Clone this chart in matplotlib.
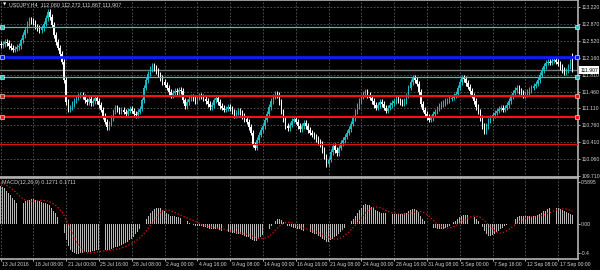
import numpy as np
import pandas as pd
import matplotlib
matplotlib.use("Agg")
import matplotlib.pyplot as plt
import matplotlib.transforms as mtrans

plt.rcParams['font.family'] = ['Liberation Sans', 'DejaVu Sans']

# USDJPY H4 closes, one per bar (left to right)
prev_close = 112.45
close = [
    112.43, 112.45, 112.49, 112.47, 112.41, 112.37, 112.33, 112.35, 112.39, 112.41,
    112.53, 112.64, 112.74, 112.87, 112.95, 112.93, 112.89, 112.82, 112.78, 112.74,
    112.78, 112.87, 112.99, 113.12, 113.01, 112.85, 112.64, 112.49, 112.37, 112.24,
    112.08, 111.70, 111.24, 111.08, 111.12, 111.20, 111.28, 111.33, 111.37, 111.39,
    111.35, 111.28, 111.24, 111.31, 111.22, 111.26, 111.33, 111.26, 111.18, 111.08,
    110.95, 110.83, 110.72, 110.79, 110.91, 111.04, 111.12, 111.08, 111.04, 111.08,
    111.04, 110.99, 111.06, 111.10, 111.06, 110.99, 110.97, 111.04, 111.10, 111.28,
    111.54, 111.70, 111.83, 111.93, 111.99, 111.95, 111.89, 111.81, 111.74, 111.66,
    111.60, 111.54, 111.45, 111.39, 111.43, 111.47, 111.45, 111.49, 111.47, 111.28,
    111.16, 111.24, 111.31, 111.35, 111.31, 111.26, 111.33, 111.37, 111.35, 111.31,
    111.26, 111.20, 111.14, 111.18, 111.28, 111.33, 111.24, 111.16, 111.12, 111.08,
    111.10, 111.14, 111.10, 111.04, 110.97, 111.02, 111.06, 111.02, 110.95, 110.89,
    110.83, 110.72, 110.60, 110.35, 110.29, 110.45, 110.56, 110.66, 110.74, 110.87,
    110.99, 111.14, 111.26, 111.35, 111.41, 111.39, 111.24, 111.04, 110.87, 110.74,
    110.70, 110.77, 110.85, 110.89, 110.83, 110.74, 110.68, 110.74, 110.81, 110.74,
    110.66, 110.60, 110.56, 110.52, 110.47, 110.41, 110.37, 110.24, 110.10, 109.95,
    110.04, 110.20, 110.33, 110.24, 110.18, 110.29, 110.39, 110.45, 110.52, 110.60,
    110.68, 110.79, 110.91, 111.04, 111.16, 111.26, 111.35, 111.41, 111.45, 111.39,
    111.33, 111.26, 111.18, 111.12, 111.18, 111.24, 111.20, 111.12, 111.06, 111.12,
    111.18, 111.22, 111.26, 111.31, 111.28, 111.24, 111.22, 111.26, 111.37, 111.54,
    111.66, 111.74, 111.70, 111.62, 111.45, 111.20, 111.08, 110.99, 110.93, 110.87,
    110.91, 110.99, 111.04, 111.10, 111.16, 111.20, 111.22, 111.26, 111.28, 111.31,
    111.33, 111.37, 111.41, 111.54, 111.66, 111.74, 111.72, 111.64, 111.56, 111.47,
    111.37, 111.26, 111.14, 111.04, 110.91, 110.74, 110.64, 110.74, 110.85, 110.91,
    110.97, 111.02, 111.06, 111.10, 111.12, 111.08, 111.12, 111.18, 111.26, 111.35,
    111.43, 111.49, 111.54, 111.47, 111.43, 111.39, 111.41, 111.45, 111.49, 111.54,
    111.58, 111.62, 111.70, 111.81, 111.91, 111.99, 112.06, 112.08, 112.06, 112.10,
    112.12, 112.08, 112.04, 111.97, 111.91, 111.85, 111.90, 111.98, 112.08, 111.907,
]
last_open, last_high, last_low = 112.080, 112.272, 111.867

# MACD main line (histogram), read per bar; a few values before the window for the signal
pre_macd = [0.57, 0.58, 0.59, 0.59, 0.58, 0.57, 0.56, 0.55]
macd_main = [
    0.53, 0.52, 0.50, 0.46, 0.43, 0.40, 0.37, 0.33, 0.30, 0.29,
    0.29, 0.30, 0.32, 0.33, 0.34, 0.35, 0.35, 0.34, 0.33, 0.32,
    0.31, 0.30, 0.29, 0.28, 0.26, 0.23, 0.19, 0.15, 0.10, 0.04,
    -0.03, -0.12, -0.22, -0.30, -0.35, -0.38, -0.40, -0.41, -0.41, -0.40,
    -0.40, -0.39, -0.39, -0.38, -0.38, -0.37, -0.37, -0.36, -0.36, -0.36,
    -0.36, -0.36, -0.36, -0.35, -0.34, -0.33, -0.32, -0.31, -0.30, -0.29,
    -0.27, -0.26, -0.24, -0.22, -0.20, -0.17, -0.14, -0.11, -0.07, -0.03,
    0.02, 0.07, 0.12, 0.16, 0.19, 0.21, 0.23, 0.23, 0.22, 0.20,
    0.18, 0.16, 0.14, 0.12, 0.11, 0.11, 0.10, 0.10, 0.09, 0.07,
    0.05, 0.04, 0.02, 0.01, -0.01, -0.02, -0.03, -0.03, -0.03, -0.04,
    -0.04, -0.05, -0.06, -0.06, -0.06, -0.07, -0.07, -0.08, -0.09, -0.10,
    -0.10, -0.11, -0.11, -0.12, -0.12, -0.13, -0.13, -0.14, -0.15, -0.16,
    -0.17, -0.18, -0.20, -0.22, -0.23, -0.23, -0.21, -0.18, -0.15, -0.12,
    -0.09, -0.06, -0.02, 0.01, 0.04, 0.07, 0.08, 0.06, 0.03, 0.00,
    -0.02, -0.03, -0.04, -0.05, -0.05, -0.06, -0.07, -0.08, -0.09, -0.09,
    -0.10, -0.11, -0.12, -0.13, -0.14, -0.16, -0.18, -0.20, -0.22, -0.24,
    -0.24, -0.22, -0.20, -0.18, -0.16, -0.13, -0.11, -0.08, -0.05, -0.02,
    0.01, 0.04, 0.08, 0.12, 0.16, 0.20, 0.23, 0.26, 0.28, 0.27,
    0.26, 0.24, 0.22, 0.20, 0.18, 0.17, 0.16, 0.15, 0.15, 0.14,
    0.14, 0.14, 0.14, 0.14, 0.14, 0.14, 0.14, 0.15, 0.16, 0.18,
    0.20, 0.21, 0.21, 0.20, 0.17, 0.12, 0.08, 0.04, 0.01, -0.02,
    -0.04, -0.05, -0.05, -0.06, -0.06, -0.06, -0.06, -0.05, -0.04, -0.02,
    0.01, 0.03, 0.05, 0.08, 0.10, 0.12, 0.13, 0.13, 0.13, 0.12,
    0.11, 0.10, 0.08, 0.05, 0.01, -0.04, -0.09, -0.13, -0.16, -0.16,
    -0.15, -0.13, -0.11, -0.09, -0.07, -0.05, -0.03, -0.01, 0.01, 0.04,
    0.06, 0.08, 0.10, 0.11, 0.11, 0.11, 0.11, 0.11, 0.11, 0.11,
    0.11, 0.12, 0.13, 0.14, 0.16, 0.18, 0.19, 0.21, 0.22, 0.22,
    0.23, 0.23, 0.22, 0.21, 0.20, 0.18, 0.17, 0.16, 0.14, 0.1271,
]

date_labels = ["13 Jul 2016", "18 Jul 08:00", "21 Jul 00:00", "25 Jul 16:00", "28 Jul 08:00",
               "2 Aug 00:00", "4 Aug 16:00", "9 Aug 08:00", "14 Aug 00:00", "16 Aug 16:00",
               "21 Aug 08:00", "24 Aug 00:00", "28 Aug 16:00", "31 Aug 08:00", "5 Sep 00:00",
               "7 Sep 16:00", "12 Sep 08:00", "17 Sep 00:00"]
price_ticks = [113.220, 112.870, 112.520, 112.160, 111.810, 111.460, 111.110,
               110.760, 110.410, 110.060, 109.710]
macd_ticks = [0.5895, 0.0, -0.4]
macd_tick_labels = ["0.5895", "0.00", "-0.4"]

cyan_levels = [112.80, 111.77]
blue_level = 112.17
red_levels = [111.37, 110.935]
red_thin_level = 110.36

BULL = "#18b9bf"
BEAR = "#ffffff"
TXT = "#d4d4d4"
GRID = "#5c5c5c"
FS = 3.7
wick = 0.055

close = np.array(close)
n = len(close)
x = np.arange(n)
opens = np.concatenate([[prev_close], close[:-1]])
opens[-1] = last_open
highs = np.maximum(opens, close) + wick
lows = np.minimum(opens, close) - wick
highs[-1], lows[-1] = last_high, last_low

# signal line = SMA(9) of the MACD main line, as in MT4
allm = pd.Series(pre_macd + macd_main)
signal = allm.rolling(9).mean().values[len(pre_macd):]
main = np.array(macd_main)

fig = plt.figure(figsize=(6, 2.7), dpi=100, facecolor="black")
ax = fig.add_axes([0, 1 - 177 / 270, 578 / 600, 177 / 270], facecolor="black")
ax2 = fig.add_axes([0, 1 - 259 / 270, 578 / 600, 81 / 270], facecolor="black")

xl = (-0.25, 281.7)
label_pos = [16 * k for k in range(len(date_labels))]

for a in (ax, ax2):
    a.set_xlim(*xl)
    for s in a.spines.values():
        s.set_color("#b4b4b4")
        s.set_linewidth(1.2)
    a.spines["left"].set_visible(False)
    a.yaxis.tick_right()
    a.tick_params(axis="both", colors=TXT, labelsize=FS, length=1.5, pad=0.8, width=0.6)
    a.set_xticks(label_pos)
    a.grid(True, axis="x", color=GRID, linestyle=(0, (2, 2)), linewidth=0.6)

# price panel
ax.set_ylim(109.68, 113.366)
ax.set_yticks(price_ticks)
ax.set_yticklabels([f"{v:.3f}" for v in price_ticks])
ax.grid(True, axis="y", color=GRID, linestyle=(0, (2, 2)), linewidth=0.6)
ax.tick_params(axis="x", labelbottom=False, length=0)

cols = np.where(close >= opens, BULL, BEAR)
ax.vlines(x, lows, highs, colors=cols, linewidth=0.75, zorder=3)
body = np.maximum(np.abs(close - opens), 0.015)
ax.bar(x, body, bottom=np.minimum(opens, close), width=0.62, color=cols, linewidth=0, zorder=3)

ax.axhline(close[-1], color="#7a7a7a", linewidth=1.0, zorder=2)
for lv in cyan_levels:
    ax.axhline(lv, color="#30c8cc", linewidth=0.9, zorder=4)
ax.axhline(blue_level, color="#0a1cff", linewidth=2.0, zorder=4)
for lv in red_levels:
    ax.axhline(lv, color="#ff1010", linewidth=1.5, zorder=4)
ax.axhline(red_thin_level, color="#e01010", linewidth=0.9, zorder=4)
mk = [(cyan_levels[0], "#30c8cc"), (blue_level, "#0a1cff"), (cyan_levels[1], "#30c8cc"),
      (red_levels[0], "#ff1010"), (red_levels[1], "#ff1010")]
for lv, c in mk:
    ax.plot([0.7, 281.2], [lv, lv], linestyle="none", marker="s", ms=2.6,
            mfc=c, mec="white", mew=0.4, zorder=5, clip_on=False)

tr = mtrans.blended_transform_factory(ax.transAxes, ax.transData)
ax.text(1.004, close[-1], f"{close[-1]:.3f}", transform=tr, fontsize=FS, color="black",
        va="center", ha="left", zorder=6,
        bbox=dict(boxstyle="square,pad=0.25", fc="white", ec="none"))

fig.text(2.5 / 600, 1 - 5 / 270, "\u25bc", color="white", fontsize=3, va="center",
         family="DejaVu Sans")
fig.text(9 / 600, 1 - 5 / 270, "USDJPY,H4  112.080 112.272 111.867 111.907",
         color=TXT, fontsize=3.9, va="center")

# MACD panel
ax2.set_ylim(-0.48, 0.64)
ax2.set_yticks(macd_ticks)
ax2.set_yticklabels(macd_tick_labels)
ax2.bar(x, main, width=0.45, color="#b8b8b8", linewidth=0, zorder=3)
ax2.plot(x, signal, color="#ee1010", linewidth=0.9, linestyle=(0, (1, 1.6)), zorder=4)
ax2.set_xticklabels(date_labels, ha="left")
for lab in ax2.get_xticklabels():
    lab.set_transform(lab.get_transform() + mtrans.ScaledTranslation(1.5 / 100, 0, fig.dpi_scale_trans))
ax2.text(2 / 578, 0.94, "MACD(12,26,9) 0.1271 0.1711", transform=ax2.transAxes,
         color=TXT, fontsize=3.9, va="center", ha="left")

fig.savefig("out.png", dpi=100, facecolor="black")
